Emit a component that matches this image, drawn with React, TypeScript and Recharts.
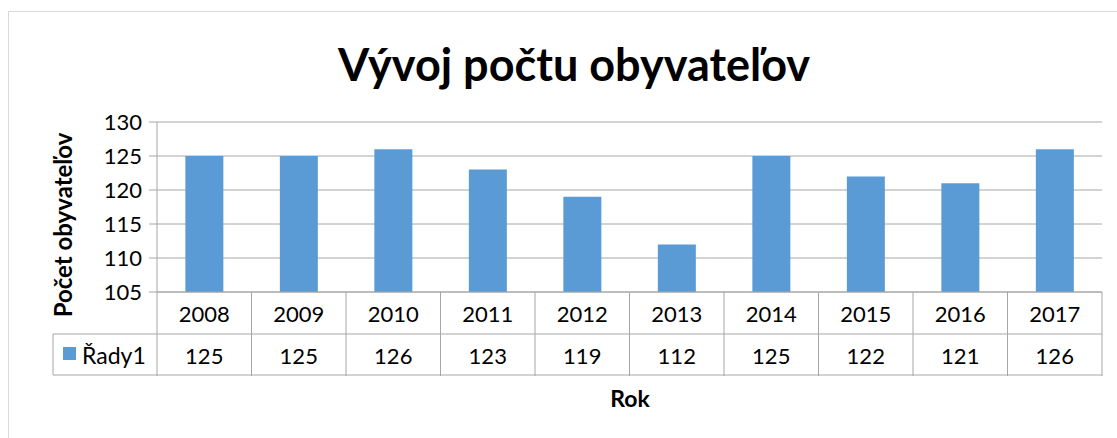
import React from 'react';
import { BarChart, Bar, XAxis, YAxis, CartesianGrid } from 'recharts';

const chartTitle = 'Vývoj počtu obyvateľov';
const xTitle = 'Rok';
const yTitle = 'Počet obyvateľov';
const seriesName = 'Řady1';

const years = ['2008', '2009', '2010', '2011', '2012', '2013', '2014', '2015', '2016', '2017'];
const population = [125, 125, 126, 123, 119, 112, 125, 122, 121, 126];
const yTicks = [105, 110, 115, 120, 125, 130];

const W = 1117;
const H = 438;
const PLOT_LEFT = 157;
const PLOT_RIGHT = 1102;
const PLOT_TOP = 122;
const PLOT_BOTTOM = 292;
const Y_AXIS_W = 60;
const X_AXIS_H = 90;
const ROW_H = 42;
const TABLE_LEFT = 53;

const GRID = '#a6a6a6';
const BAR = '#5b9bd5';
const FONT = 'Lato, "Open Sans", sans-serif';
const TXT = 22;

const data = years.map((year, i) => ({ year, value: population[i] }));
const cellW = (PLOT_RIGHT - PLOT_LEFT) / years.length;

// x axis tick doubles as the data table under the plot
const TableTick = (props: any) => {
    const { x, y, payload } = props;
    const i = payload.index;
    const l = x - cellW / 2;
    const r = x + cellW / 2;
    return (
        <g>
            <line x1={l} y1={y} x2={l} y2={y + ROW_H * 2} stroke={GRID} />
            {i === years.length - 1 && <line x1={r} y1={y} x2={r} y2={y + ROW_H * 2} stroke={GRID} />}
            <line x1={l} y1={y + ROW_H} x2={r} y2={y + ROW_H} stroke={GRID} />
            <line x1={l} y1={y + ROW_H * 2 - 1} x2={r} y2={y + ROW_H * 2 - 1} stroke={GRID} />
            <text x={x} y={y + 21} textAnchor="middle" dominantBaseline="central" fontSize={TXT} fontFamily={FONT} fill="#000">
                {payload.value}
            </text>
            <text x={x} y={y + ROW_H + 21} textAnchor="middle" dominantBaseline="central" fontSize={TXT} fontFamily={FONT} fill="#000">
                {population[i]}
            </text>
            {i === 0 && (
                <g>
                    <line x1={TABLE_LEFT} y1={y + ROW_H} x2={l} y2={y + ROW_H} stroke={GRID} />
                    <line x1={TABLE_LEFT} y1={y + ROW_H * 2 - 1} x2={l} y2={y + ROW_H * 2 - 1} stroke={GRID} />
                    <line x1={TABLE_LEFT} y1={y + ROW_H} x2={TABLE_LEFT} y2={y + ROW_H * 2 - 1} stroke={GRID} />
                    <rect x={TABLE_LEFT + 10} y={y + ROW_H + 13} width={13} height={13} fill={BAR} />
                    <text x={TABLE_LEFT + 29} y={y + ROW_H + 21} dominantBaseline="central" fontSize={23} fontFamily={FONT} fill="#000">
                        {seriesName}
                    </text>
                </g>
            )}
        </g>
    );
};

export default function App() {
    return (
        <div style={{ position: 'absolute', left: 0, top: 0, width: W, height: H, overflow: 'hidden', background: '#fff' }}>
            <div style={{ position: 'absolute', left: 8, top: 11, width: 1200, height: 600, border: '1px solid #d9d9d9' }} />
            <div style={{ position: 'absolute', left: 0, top: 0 }}>
                <BarChart
                    width={W}
                    height={H}
                    data={data}
                    margin={{ top: PLOT_TOP, right: W - PLOT_RIGHT, bottom: H - PLOT_BOTTOM - X_AXIS_H, left: PLOT_LEFT - Y_AXIS_W }}
                    barCategoryGap="30%"
                >
                    <CartesianGrid vertical={false} stroke={GRID} />
                    <XAxis
                        dataKey="year"
                        height={X_AXIS_H}
                        axisLine={{ stroke: GRID }}
                        tickLine={false}
                        tickSize={0}
                        tickMargin={0}
                        interval={0}
                        tick={<TableTick />}
                    />
                    <YAxis
                        width={Y_AXIS_W}
                        type="number"
                        domain={[105, 130]}
                        ticks={yTicks}
                        interval={0}
                        axisLine={{ stroke: GRID }}
                        tickLine={{ stroke: GRID }}
                        tickSize={8}
                        tickMargin={7}
                        tick={{ fill: '#000', fontSize: TXT, fontFamily: FONT }}
                    />
                    <Bar dataKey="value" fill={BAR} isAnimationActive={false} />
                </BarChart>
            </div>
            <svg width={W} height={H} style={{ position: 'absolute', left: 0, top: 0, pointerEvents: 'none' }}>
                <text x={574} y={81} textAnchor="middle" fontSize={45} fontWeight="bold" fontFamily={FONT} fill="#000">
                    {chartTitle}
                </text>
                <text x={630} y={398} textAnchor="middle" dominantBaseline="central" fontSize={23} fontWeight="bold" fontFamily={FONT} fill="#000">
                    {xTitle}
                </text>
                <text
                    x={62}
                    y={225}
                    transform="rotate(-90 62 225)"
                    textAnchor="middle"
                    dominantBaseline="central"
                    fontSize={24}
                    fontWeight="bold"
                    fontFamily={FONT}
                    fill="#000"
                >
                    {yTitle}
                </text>
            </svg>
        </div>
    );
}
